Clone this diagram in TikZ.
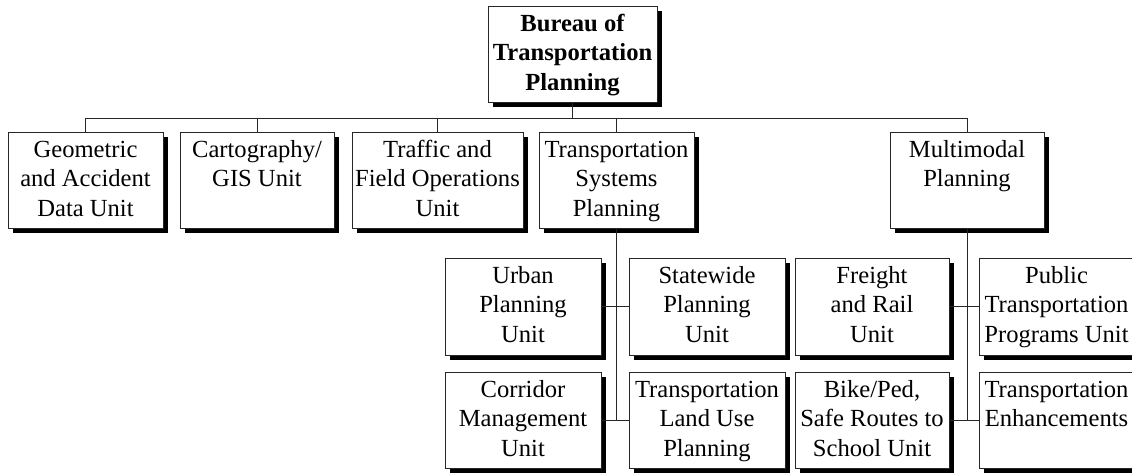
\documentclass[tikz,border=0pt]{standalone}
\usepackage{fontspec}
\setmainfont{Liberation Serif}
\newcommand\bxt[3]{\parbox[c][#2pt][t]{#1pt}{\centering\vspace*{5pt}\strut #3}}
\tikzset{
  unit/.style={draw=black!85, line width=0.8pt, fill=white, inner sep=0pt,
    font=\fontsize{24.6}{29.3}\selectfont,
    preaction={fill=black, transform canvas={shift={(4.5pt,-4.5pt)}}}},
  link/.style={draw=black!85, line width=0.8pt}
}
\begin{document}
\begin{tikzpicture}[x=1pt,y=-1pt]
\useasboundingbox (0,0) rectangle (1132,472);
\fill[white] (0,0) rectangle (1132,472);
\node[unit] (top) at (572.5,54) {\bxt{169}{96}{\bfseries Bureau of\\Transportation\\Planning}};
\node[unit] (geo) at (85.5,180) {\bxt{155}{96}{Geometric\\and Accident\\Data Unit}};
\node[unit] (carto) at (257,180) {\bxt{154}{96}{Cartography/\\GIS Unit}};
\node[unit] (traffic) at (437.5,180) {\bxt{171}{96}{Traffic and\\Field Operations\\Unit}};
\node[unit] (tsp) at (616.5,180) {\bxt{155}{96}{Transportation\\Systems\\Planning}};
\node[unit] (multi) at (967,180) {\bxt{154}{96}{Multimodal\\Planning}};
\node[unit] (urban) at (523,306.5) {\bxt{156}{97}{Urban\\Planning\\Unit}};
\node[unit] (state) at (707,306.5) {\bxt{156}{97}{Statewide\\Planning\\Unit}};
\node[unit] (freight) at (872,306.5) {\bxt{154}{97}{Freight\\and Rail\\Unit}};
\node[unit] (public) at (1056.5,306.5) {\bxt{155}{97}{Public\\Transportation\\Programs Unit}};
\node[unit] (corr) at (523,420) {\bxt{156}{96}{Corridor\\Management\\Unit}};
\node[unit] (land) at (707,420) {\bxt{156}{96}{Transportation\\Land Use\\Planning}};
\node[unit] (bike) at (872,420) {\bxt{154}{96}{Bike/Ped,\\Safe Routes to\\School Unit}};
\node[unit] (enh) at (1056.5,420) {\bxt{155}{96}{Transportation\\Enhancements}};
\coordinate (bus) at (573,118);
\draw[link] (top.south) -- (top.south |- bus);
\draw[link] (geo.north) -- (geo.north |- bus) -| (multi.north);
\draw[link] (carto.north) -- (carto.north |- bus);
\draw[link] (traffic.north) -- (traffic.north |- bus);
\draw[link] (tsp.north) -- (tsp.north |- bus);
\draw[link] (tsp.south) -- (tsp.south |- corr.east);
\draw[link] (urban.east) -- (state.west);
\draw[link] (corr.east) -- (land.west);
\draw[link] (multi.south) -- (multi.south |- bike.east);
\draw[link] (freight.east) -- (public.west);
\draw[link] (bike.east) -- (enh.west);
\end{tikzpicture}
\end{document}
